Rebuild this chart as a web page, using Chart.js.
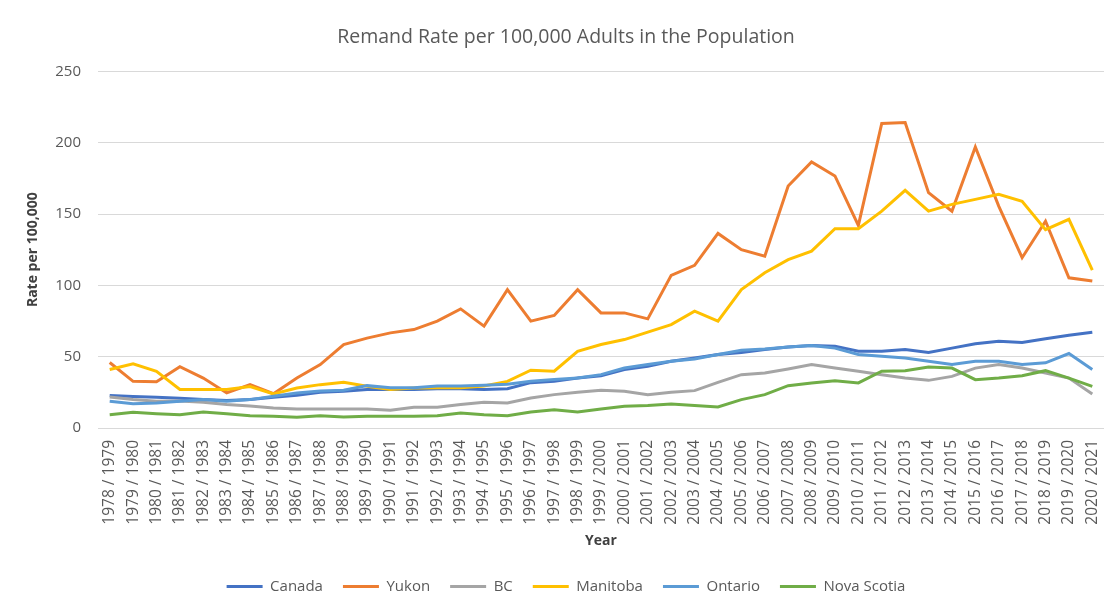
<!DOCTYPE html>
<html>
<head>
<meta charset="utf-8">
<title>Remand Rate per 100,000 Adults in the Population</title>
<script src="https://cdn.jsdelivr.net/npm/chart.js@4.4.1/dist/chart.umd.min.js"></script>
<style>
    html, body { margin: 0; padding: 0; background: #ffffff; }
    #wrap { width: 1115px; height: 610px; }
</style>
</head>
<body>
<div id="wrap"><canvas id="remandChart" width="1115" height="610"></canvas></div>
<script>
// Fiscal years on the x axis
const years = [
    '1978 / 1979', '1979 / 1980', '1980 / 1981', '1981 / 1982', '1982 / 1983',
    '1983 / 1984', '1984 / 1985', '1985 / 1986', '1986 / 1987', '1987 / 1988',
    '1988 / 1989', '1989 / 1990', '1990 / 1991', '1991 / 1992', '1992 / 1993',
    '1993 / 1994', '1994 / 1995', '1995 / 1996', '1996 / 1997', '1997 / 1998',
    '1998 / 1999', '1999 / 2000', '2000 / 2001', '2001 / 2002', '2002 / 2003',
    '2003 / 2004', '2004 / 2005', '2005 / 2006', '2006 / 2007', '2007 / 2008',
    '2008 / 2009', '2009 / 2010', '2010 / 2011', '2011 / 2012', '2012 / 2013',
    '2013 / 2014', '2014 / 2015', '2015 / 2016', '2016 / 2017', '2017 / 2018',
    '2018 / 2019', '2019 / 2020', '2020 / 2021'
];

// Rates per 100,000 adults
const canada = [22.7, 22, 21.5, 20.8, 20, 19.2, 19.9, 21.5, 23, 25, 25.7, 27, 27, 27, 27.5,
    27.5, 27, 27.5, 31.8, 32.7, 35, 36.7, 41, 43.3, 46.8, 49, 51.5, 53, 55, 56.8,
    57.8, 57.4, 53.8, 53.8, 55, 53, 56, 59, 60.8, 60, 62.5, 65, 67.2];
const yukon = [45.9, 32.7, 32.5, 43, 35, 24.6, 30.4, 24, 35, 44.5, 58.5, 63, 66.7, 69, 74.9,
    83.5, 71.4, 97, 74.9, 78.9, 97, 80.7, 80.7, 76.5, 107, 114, 136.4, 125, 120.5, 169.7,
    186.5, 176.7, 142, 213.5, 214.2, 165, 152, 197, 155.6, 119.4, 145, 105.3, 103];
const bc = [21.8, 20, 18.7, 19, 18, 16.4, 15.5, 14, 13.4, 13.4, 13.4, 13.4, 12.4, 14.5, 14.5,
    16.4, 18, 17.5, 21, 23.4, 25, 26.4, 25.7, 23.4, 25, 26.2, 32, 37.4, 38.6, 41.4,
    44.5, 42, 39.8, 37.4, 35, 33.4, 36.2, 42, 44.5, 42, 38.6, 35, 23.8];
const manitoba = [41, 45, 39.8, 27, 27, 27, 29, 23.9, 28, 30.4, 32, 29.2, 27, 28, 28.3,
    28.3, 29.5, 32.7, 40.5, 39.8, 53.8, 58.5, 62, 67.2, 72.5, 81.9, 74.9, 97, 108.8, 118,
    124, 139.7, 139.7, 152, 166.6, 152, 156.8, 160.3, 163.8, 159, 139, 146.3, 110.7];
const ontario = [18.7, 17, 17.5, 18.7, 19.9, 18.7, 19.9, 22.2, 24.6, 26, 26.4, 29.7, 28.3, 28.3, 29.5,
    29.5, 30, 30.6, 32.7, 34, 35, 37.4, 42, 44.5, 46.8, 48.4, 51.5, 54.5, 55.4, 56.8,
    57.8, 56, 51.5, 50.3, 49, 46.8, 44.5, 46.8, 46.8, 44.5, 45.7, 52.2, 41];
const novaScotia = [9.3, 11, 10, 9.3, 11.2, 10, 8.6, 8.2, 7.5, 8.6, 7.7, 8.2, 8.2, 8.2, 8.6,
    10.5, 9.3, 8.6, 11.2, 12.8, 11.2, 13.3, 15.2, 15.7, 16.8, 15.7, 14.8, 19.9, 23.4, 29.7,
    31.6, 33.2, 31.6, 39.8, 40.2, 42.8, 42, 33.9, 35, 36.7, 40.2, 35, 29.2];

const yTicks = [0, 50, 100, 150, 200, 250];

const FONT = "'Open Sans', 'Liberation Sans', sans-serif";
const TEXT = '#595959';

function line(label, data, color, order) {
    return {
        label: label,
        data: data,
        borderColor: color,
        backgroundColor: color,
        borderWidth: 3,
        pointRadius: 0,
        pointHoverRadius: 0,
        tension: 0,
        fill: false,
        order: order
    };
}

const ctx = document.getElementById('remandChart').getContext('2d');
new Chart(ctx, {
    type: 'line',
    data: {
        labels: years,
        datasets: [
            line('Canada', canada, '#4472C4', 6),
            line('Yukon', yukon, '#ED7D31', 5),
            line('BC', bc, '#A5A5A5', 4),
            line('Manitoba', manitoba, '#FFC000', 3),
            line('Ontario', ontario, '#5B9BD5', 2),
            line('Nova Scotia', novaScotia, '#70AD47', 1)
        ]
    },
    options: {
        responsive: false,
        animation: false,
        devicePixelRatio: 1,
        layout: {
            padding: { left: 25, right: 8, top: 0, bottom: 6 }
        },
        plugins: {
            title: {
                display: true,
                text: 'Remand Rate per 100,000 Adults in the Population',
                color: TEXT,
                font: { family: FONT, size: 19.5, weight: 'normal' },
                padding: { top: 26, bottom: 22 }
            },
            legend: {
                position: 'bottom',
                labels: {
                    usePointStyle: true,
                    pointStyle: 'line',
                    pointStyleWidth: 36,
                    padding: 20,
                    color: TEXT,
                    font: { family: FONT, size: 15 },
                    sort: (a, b) => a.datasetIndex - b.datasetIndex
                }
            },
            tooltip: { enabled: false }
        },
        scales: {
            x: {
                offset: true,
                grid: { display: false },
                border: { display: false },
                ticks: {
                    autoSkip: false,
                    maxRotation: 90,
                    minRotation: 90,
                    padding: 4,
                    color: TEXT,
                    font: { family: FONT, size: 15.5 }
                },
                title: {
                    display: true,
                    text: 'Year',
                    color: '#404040',
                    font: { family: FONT, size: 14, weight: 'bold' },
                    padding: { top: 0, bottom: 9.6 }
                },
                afterFit: s => { s.height = 131; }
            },
            y: {
                min: 0,
                max: 250,
                afterBuildTicks: s => { s.ticks = yTicks.map(v => ({ value: v })); },
                grid: { color: '#D9D9D9', lineWidth: 1, drawTicks: false },
                border: { display: false },
                ticks: {
                    padding: 17,
                    color: TEXT,
                    font: { family: FONT, size: 15 }
                },
                title: {
                    display: true,
                    text: 'Rate per 100,000',
                    color: '#404040',
                    font: { family: FONT, size: 14, weight: 'bold' },
                    padding: { top: 0, bottom: 8 }
                },
                afterFit: s => { s.width = 73; }
            }
        }
    }
});
</script>
</body>
</html>
